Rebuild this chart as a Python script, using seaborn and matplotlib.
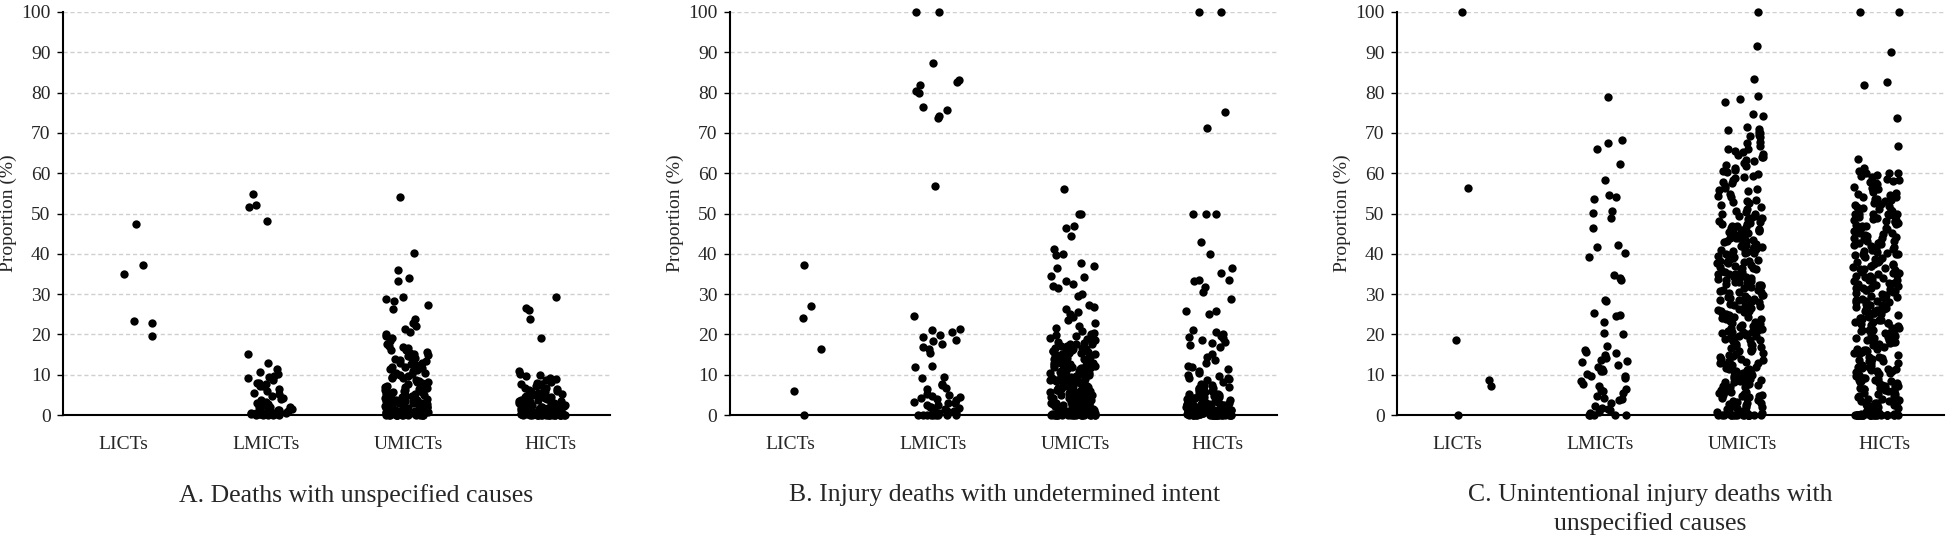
import numpy as np
import pandas as pd
import matplotlib
matplotlib.use("Agg")
import matplotlib.pyplot as plt
import seaborn as sns

# ---- data (proportion, %) ----
categories = ["LICTs", "LMICTs", "UMICTs", "HICTs"]

titles = [
    "A. Deaths with unspecified causes",
    "B. Injury deaths with undetermined intent",
    "C. Unintentional injury deaths with\nunspecified causes",
]

a_licts = [47.5, 37.2, 35.0, 23.3, 22.8, 19.6]
a_lmicts = [54.8, 52.2, 51.6, 48.2, 15.2, 12.9, 11.3, 10.6, 10.1, 9.7, 9.1, 8.6,
            8.0, 7.6, 7.1, 6.4, 5.9, 5.4, 4.7, 4.1, 3.6, 3.0, 2.6, 2.1, 1.6, 1.2,
            0.9, 0.6, 0.4, 0.3, 0.2, 0.1, 0.0, 8.0, 3.3, 2.7, 2.0, 1.5, 1.1, 0.8,
            0.5, 0.3, 0.2, 0.1, 0.0, 0.6, 1.9, 0.4, 9.4, 7.3, 5.2, 3.9, 1.3, 0.0]
a_umicts = [54.1, 40.2, 36.0, 34.0, 33.3, 29.2, 28.9, 28.2, 27.2, 26.4, 23.8, 22.9,
            22.0, 21.3, 20.7, 20.2, 19.6, 19.0, 18.4, 17.6, 17.0, 16.6, 16.1, 15.6,
            15.1, 14.7, 14.2, 13.8, 13.3, 12.9, 12.4, 12.0, 11.6, 11.2, 10.9, 10.5,
            10.2, 10.0, 9.7, 9.4, 9.1, 8.8, 8.5, 8.2, 7.9, 7.6, 7.3, 7.0, 6.8, 6.5,
            6.2, 6.0, 5.8, 5.5, 5.3, 5.0, 4.8, 4.6, 4.4, 4.2, 4.0, 3.8, 3.6, 3.4,
            3.2, 3.0, 2.8, 2.6, 2.4, 2.2, 2.0, 1.9, 1.7, 1.5, 1.4, 1.2, 1.1, 1.0,
            0.9, 0.8, 0.7, 0.6, 0.5, 0.4, 0.3, 0.3, 0.2, 0.2, 0.1, 0.1, 0.0, 0.0,
            0.0, 0.0, 0.0, 0.0, 14.9, 13.0, 11.8, 9.9, 7.8, 6.6, 5.1, 4.9, 3.7,
            2.9, 1.8, 1.3, 0.6, 0.2, 0.1, 0.0, 0.0, 0.0, 0.1, 0.3, 0.6, 0.9, 1.2,
            1.6, 2.1, 2.7, 3.1, 3.9, 4.3, 5.7, 6.1, 6.9, 8.1, 0.0, 0.2, 0.5, 0.8,
            1.4, 2.3, 3.5, 4.6, 5.9, 7.5, 9.2, 0.0, 0.4, 1.0, 1.7, 2.5, 16.9, 16.2,
            15.3, 14.4, 13.6, 12.7, 11.4, 10.3]
a_hicts = [29.3, 26.6, 26.0, 23.9, 19.1, 10.8, 10.1, 9.9, 9.6, 9.3, 8.9, 8.6, 8.2,
           8.0, 7.7, 7.4, 7.1, 6.8, 6.6, 6.3, 6.0, 5.7, 5.5, 5.2, 5.0, 4.7, 4.5,
           4.2, 4.0, 3.8, 3.6, 3.4, 3.2, 3.0, 2.8, 2.6, 2.5, 2.3, 2.1, 2.0, 1.8,
           1.7, 1.5, 1.4, 1.3, 1.2, 1.1, 1.0, 0.9, 0.8, 0.7, 0.7, 0.6, 0.5, 0.5,
           0.4, 0.4, 0.3, 0.3, 0.2, 0.2, 0.2, 0.1, 0.1, 0.1, 0.0, 0.0, 0.0, 0.0,
           0.0, 0.0, 0.0, 0.0, 3.5, 2.7, 1.9, 1.6, 0.9, 0.6, 0.3, 6.1, 4.4, 2.2,
           1.2, 0.8, 0.4, 0.1, 0.0, 0.0, 0.0, 0.0, 0.1, 0.2, 0.3, 0.4, 0.6, 0.8,
           1.0, 1.3, 1.6, 2.0, 2.4, 2.9, 3.3, 4.1, 4.8, 5.6, 6.4, 7.6, 0.0, 0.1,
           0.3, 0.5, 0.9, 1.4, 2.1, 3.1, 4.3, 5.8, 0.0, 0.2, 0.7, 1.1, 1.7, 2.6]

b_licts = [37.1, 27.0, 24.0, 16.4, 5.9, 0.0]
b_lmicts = [100.0, 100.0, 87.4, 83.2, 82.6, 82.0, 80.3, 80.0, 76.5, 75.8, 74.2,
            73.6, 56.7, 24.6, 21.1, 21.3, 20.6, 19.9, 19.3, 18.6, 18.4, 17.6,
            16.9, 16.3, 15.5, 12.1, 11.9, 9.5, 9.2, 7.8, 7.4, 6.8, 6.5, 5.3, 5.0,
            4.6, 4.2, 3.8, 3.3, 2.9, 2.4, 2.1, 1.8, 1.4, 1.1, 0.8, 0.5, 0.3, 0.2,
            0.1, 0.0, 0.0, 0.0, 0.0, 0.0, 4.0, 2.6, 1.5, 0.7, 0.0, 0.0, 0.3, 1.0,
            2.0, 3.1, 4.4, 0.0, 0.6]
b_umicts = [56.2, 50.0, 50.0, 47.0, 46.5, 44.3, 41.2, 40.0, 39.7, 37.8, 37.0, 36.5,
            34.5, 34.2, 33.3, 32.6, 32.0, 31.6, 30.1, 29.6, 27.3, 26.8, 26.2, 25.6,
            25.0, 24.4, 23.6, 22.8, 22.0, 21.5, 20.9, 20.4, 20.0, 19.6, 19.2, 18.8,
            18.3, 17.9, 17.5, 17.1, 16.8, 16.6, 16.5, 16.3, 16.0, 15.7, 15.4, 15.0,
            14.7, 14.4, 14.0, 13.7, 13.3, 13.0, 12.7, 12.3, 12.0, 11.7, 11.3, 11.0,
            10.7, 10.4, 10.0, 9.7, 9.4, 9.1, 8.8, 8.5, 8.2, 7.9, 7.6, 7.3, 7.0, 6.7,
            6.4, 6.1, 5.8, 5.5, 5.2, 4.9, 4.6, 4.3, 4.0, 3.7, 3.4, 3.1, 2.8, 2.5,
            2.2, 1.9, 1.6, 1.3, 1.0, 0.8, 0.6, 0.4, 0.2, 0.1, 0.0, 0.0, 0.0, 0.0,
            0.0, 0.0, 18.0, 17.2, 15.9, 14.9, 13.5, 12.5, 11.5, 10.2, 9.0, 8.0, 7.1,
            6.2, 5.4, 4.5, 3.6, 2.7, 1.8, 0.9, 0.3, 0.0, 17.6, 15.2, 13.8, 12.2,
            10.9, 9.6, 8.4, 7.4, 6.0, 4.8, 3.9, 2.3, 1.2, 0.5, 0.0, 19.8, 18.6,
            14.2, 11.1, 8.7, 6.9, 5.0, 3.2, 1.5, 0.0, 0.0, 0.0, 0.0, 0.1, 0.3, 0.5,
            0.9, 1.1, 1.4, 2.0, 2.4, 2.9, 3.5, 4.1, 4.7, 5.3, 6.0, 6.8, 7.7, 8.6,
            9.3, 10.5, 11.4, 12.4, 13.1, 14.6, 15.5, 16.7, 17.4, 0.0, 0.2, 0.7,
            1.2, 2.1, 3.0, 4.2, 5.6, 7.2, 9.1, 10.8, 12.9, 15.1, 0.0, 0.4, 1.7,
            3.8, 6.5, 9.9, 12.8, 16.2, 0.0, 0.1, 0.5, 1.0, 1.8, 2.6, 3.3, 4.4, 5.1,
            5.9, 6.6, 7.5, 8.3, 9.5, 10.6, 11.6, 12.6, 13.9, 15.3, 16.4, 17.7, 0.0,
            0.3, 0.8, 1.5, 2.3, 3.6, 4.8, 6.3, 7.9, 9.8, 11.9, 14.1, 0.0, 0.6]
b_hicts = [100.0, 100.0, 75.1, 71.3, 50.0, 50.0, 50.0, 42.9, 40.0, 36.4, 35.2, 33.5,
           33.4, 33.3, 31.8, 30.6, 28.7, 25.9, 25.8, 25.1, 21.2, 20.6, 20.1, 19.7,
           19.4, 19.0, 18.6, 18.2, 17.8, 17.3, 16.8, 15.1, 14.4, 13.6, 12.8, 12.2,
           11.5, 10.9, 10.5, 10.0, 9.6, 9.3, 8.8, 8.3, 7.7, 7.2, 6.8, 6.4, 6.0,
           5.6, 5.3, 5.0, 4.7, 4.4, 4.1, 3.8, 3.5, 3.3, 3.0, 2.8, 2.6, 2.4, 2.2,
           2.0, 1.8, 1.6, 1.5, 1.3, 1.2, 1.0, 0.9, 0.8, 0.7, 0.6, 0.5, 0.4, 0.3,
           0.2, 0.1, 0.0, 0.0, 0.0, 0.0, 0.0, 0.0, 0.0, 0.0, 0.0, 0.0, 6.6, 5.9,
           4.9, 4.2, 3.6, 3.1, 2.5, 1.9, 1.4, 1.1, 0.6, 0.3, 0.1, 0.0, 0.0, 5.4,
           4.6, 3.9, 2.9, 2.1, 1.7, 1.0, 0.4, 0.0, 0.0, 12.0, 9.0, 7.5, 5.2, 3.4,
           2.3, 1.2, 0.5, 0.0, 0.0, 4.3, 2.7, 1.4, 0.8, 0.2, 0.0, 0.0, 0.0, 0.0,
           0.0, 0.1, 0.2, 0.4, 0.6, 0.9, 1.1, 1.3, 1.7, 2.0, 2.5, 2.8, 3.2, 3.9,
           4.5, 5.1, 5.8, 6.3, 7.0, 0.0, 0.1, 0.3, 0.7, 1.2, 1.9, 2.6, 3.6, 4.4,
           0.0, 0.5, 1.5, 9.3]

c_licts = [100.0, 56.3, 18.7, 8.6, 7.1, 0.0]
c_lmicts = [79.0, 68.2, 67.6, 65.9, 62.2, 58.3, 54.6, 54.2, 53.6, 50.7, 50.2, 48.8,
            46.3, 42.2, 41.6, 40.1, 39.1, 34.7, 34.0, 33.6, 28.6, 28.4, 25.2, 24.8,
            24.5, 23.2, 20.3, 20.0, 17.0, 16.1, 15.7, 15.3, 14.8, 14.2, 13.7, 13.1,
            12.5, 11.9, 11.4, 10.8, 10.2, 9.6, 9.1, 8.5, 7.8, 7.2, 6.5, 6.0, 5.4,
            4.8, 4.2, 3.7, 3.0, 2.3, 1.8, 1.2, 0.8, 0.4, 0.2, 0.0, 0.0, 0.0, 0.0,
            0.0, 13.5, 11.0, 9.8, 6.1, 3.9, 1.5]
c_umicts = [100.0, 91.6, 83.3, 79.2, 78.3, 77.6, 74.6, 74.1, 71.4, 70.6, 70.0, 69.4,
            68.9, 67.5, 66.7, 66.0, 65.3, 64.8, 63.9, 63.1, 62.6, 61.8, 60.9, 60.3,
            59.8, 59.0, 58.4, 57.6, 56.9, 56.4, 55.5, 54.8, 54.1, 53.4, 52.2, 51.5,
            50.6, 50.0, 49.3, 48.7, 48.1, 47.4, 47.0, 46.3, 45.8, 45.1, 44.7, 44.0,
            43.3, 42.9, 42.2, 41.6, 41.0, 40.5, 40.1, 48.9, 46.9, 45.5, 43.8, 42.5,
            41.3, 40.3, 39.6, 39.2, 38.7, 38.1, 37.6, 37.2, 36.5, 36.0, 35.4, 34.9,
            34.5, 33.9, 33.4, 32.8, 32.2, 31.7, 31.1, 30.6, 30.2, 39.9, 38.4, 37.0,
            35.7, 34.2, 33.1, 32.5, 31.3, 30.4, 29.7, 29.1, 28.6, 28.0, 27.6, 27.0,
            26.4, 25.9, 25.3, 24.8, 24.2, 23.7, 23.1, 22.5, 22.0, 21.4, 20.9, 20.3,
            29.4, 28.3, 27.3, 26.1, 25.0, 24.0, 22.8, 21.7, 20.6, 20.1, 19.7, 19.2,
            18.6, 18.1, 17.5, 17.0, 16.4, 15.8, 15.2, 14.7, 14.0, 13.4, 12.9, 12.3,
            11.7, 11.1, 10.5, 10.1, 19.5, 18.3, 16.8, 15.5, 13.2, 11.9, 10.8, 9.6,
            9.1, 8.6, 8.0, 7.4, 6.9, 6.3, 5.8, 5.2, 4.7, 4.1, 3.5, 3.0, 2.4, 1.9,
            1.3, 0.8, 0.4, 0.0, 0.0, 0.0, 0.0, 0.0, 0.0, 0.0, 0.0, 9.9, 8.3, 7.2,
            6.0, 4.9, 3.8, 2.7, 1.6, 0.6, 0.0, 0.0, 0.0, 0.0, 1.1, 2.2, 3.3, 4.4,
            5.5, 6.7, 7.7, 8.9, 10.3, 11.4, 12.6, 13.9, 15.0, 16.1, 17.3, 18.5,
            19.9, 21.2, 22.3, 23.4, 24.6, 25.7, 27.1, 28.2, 29.5, 30.9, 32.0, 33.2,
            34.3, 35.6, 36.8, 38.0, 39.4, 40.7, 41.8, 43.1, 44.4, 45.6, 46.7, 48.0,
            49.5, 51.1, 53.0, 55.8, 57.9, 60.6, 62.1, 64.0, 65.9, 69.2, 71.0, 18.8,
            20.5, 22.2, 24.4, 26.6, 28.9, 31.5, 33.7, 36.2, 38.9, 41.5, 43.9, 46.1,
            47.7, 26.9, 29.9, 34.8, 37.9, 42.0, 44.9, 5.0, 8.1, 2.0, 0.0, 0.0,
            0.0, 0.7, 1.8, 3.1, 4.3, 5.6, 7.0, 8.4, 9.7, 11.3, 12.8, 14.3, 15.9,
            17.6, 19.0, 20.7, 22.6, 24.1, 25.5, 27.8, 29.0, 30.7, 32.3, 33.8, 35.1,
            36.6, 38.3, 39.7, 41.1, 42.8, 44.2, 45.9, 47.3, 49.0, 50.4, 52.7, 54.4,
            56.2, 58.8, 61.4, 63.3, 65.6, 67.8, 70.3, 2.9, 6.2, 9.3, 13.7, 16.6,
            21.9, 25.1, 28.5, 31.9, 35.0, 37.7, 40.9, 43.5, 46.5, 49.8, 52.9, 59.3,
            64.6, 0.0, 0.0, 1.4, 4.6, 10.9, 23.9, 33.0, 38.6, 45.3]
c_hicts = [100.0, 100.0, 90.0, 82.6, 82.0, 73.7, 66.7, 63.5, 61.2, 60.5, 60.0, 60.0,
           60.0, 59.6, 59.0, 58.5, 58.0, 57.6, 57.0, 56.4, 55.9, 55.3, 54.8, 54.2,
           53.6, 53.0, 52.5, 51.9, 51.3, 50.7, 50.0, 50.0, 50.0, 50.0, 49.6, 49.0,
           48.5, 47.9, 47.3, 46.8, 46.2, 45.6, 45.0, 44.5, 43.9, 43.3, 42.8, 42.2,
           41.6, 41.0, 40.5, 40.0, 40.0, 48.1, 46.5, 45.2, 44.0, 42.5, 41.3, 49.2,
           47.6, 43.6, 39.5, 39.0, 38.4, 37.9, 37.3, 36.7, 36.2, 35.6, 35.0, 34.5,
           33.9, 33.3, 33.3, 32.8, 32.2, 31.6, 31.1, 30.5, 30.0, 38.0, 36.9, 35.3,
           34.2, 32.5, 31.4, 30.3, 39.8, 37.5, 35.9, 33.6, 30.8, 29.6, 29.0, 28.6,
           28.0, 27.5, 26.9, 26.3, 25.8, 25.2, 25.0, 24.6, 24.1, 23.5, 22.9, 22.4,
           21.8, 21.2, 20.7, 20.1, 29.3, 28.3, 27.2, 26.0, 24.8, 23.2, 22.1, 21.0,
           20.4, 28.8, 26.6, 25.5, 23.8, 22.6, 20.9, 19.6, 19.0, 18.5, 17.9, 17.3,
           16.8, 16.2, 15.6, 15.1, 14.5, 13.9, 13.4, 12.8, 12.2, 11.7, 11.1, 10.5,
           10.0, 19.3, 18.2, 17.0, 16.0, 14.8, 13.6, 12.5, 11.4, 10.3, 18.8, 16.5,
           14.2, 12.0, 10.8, 9.6, 9.0, 8.5, 7.9, 7.3, 6.8, 6.2, 5.6, 5.1, 4.5, 3.9,
           3.4, 2.8, 2.2, 1.7, 1.1, 0.6, 9.3, 8.2, 7.1, 6.0, 4.8, 3.7, 2.5, 1.4,
           0.3, 8.8, 6.5, 4.2, 3.0, 1.9, 0.9, 0.0, 0.0, 0.0, 0.0, 0.0, 0.0, 0.0,
           0.0, 0.0, 0.0, 0.0, 0.0, 0.0, 0.0, 0.0, 0.0, 0.0, 0.0, 0.0, 0.0, 0.0,
           0.0, 0.0, 0.0, 0.5, 1.0, 1.6, 2.3, 3.1, 3.6, 4.4, 5.3, 6.1, 6.7, 7.5,
           8.4, 9.1, 10.2, 11.0, 11.8, 12.9, 13.7, 14.4, 15.5, 16.3, 17.4, 18.1,
           19.2, 20.0, 21.1, 21.7, 22.8, 23.6, 24.3, 25.4, 26.2, 27.3, 28.0, 29.1,
           29.8, 30.9, 31.5, 32.7, 33.4, 34.6, 35.2, 36.3, 37.0, 38.2, 38.8, 39.9,
           40.6, 41.5, 42.7, 43.3, 44.6, 45.1, 46.3, 46.9, 48.2, 48.7, 49.8, 50.8,
           51.6, 52.3, 53.4, 54.1, 55.2, 56.1, 57.3, 58.2, 59.4, 2.6, 5.4, 8.0,
           10.7, 13.3, 16.1, 18.7, 21.5, 24.0, 26.8, 29.4, 32.1, 34.8, 37.4, 40.2,
           42.9, 45.6, 48.3, 51.0, 53.7, 56.6, 0.3, 1.3, 3.3, 4.0, 7.2, 0.0, 0.0,
           0.0, 0.8, 2.0, 3.5, 5.0, 6.4, 8.7, 11.5, 14.0, 17.7, 20.3, 23.0, 25.9,
           28.4, 31.2, 33.9, 36.5, 39.3, 41.9, 44.1, 47.1, 49.4, 52.0, 54.6, 57.8]

panels = [
    [a_licts, a_lmicts, a_umicts, a_hicts],
    [b_licts, b_lmicts, b_umicts, b_hicts],
    [c_licts, c_lmicts, c_umicts, c_hicts],
]


def to_long(groups):
    rows = []
    for cat, vals in zip(categories, groups):
        rows += [(cat, v) for v in vals]
    return pd.DataFrame(rows, columns=["group", "value"])


sns.set_theme(style="white")
plt.rcParams["font.family"] = ["Liberation Serif", "DejaVu Serif"]

fig = plt.figure(figsize=(19.52, 5.4), dpi=100)
W, H = 1952, 540
lefts = [63, 730, 1397]
title_x = [356, 1005, 1650]
ax_w, ax_b, ax_t = 547, 415, 12
label_pos = [-0.08, 0.97, 2.02, 3.06]  # category labels sit a bit wider than the dots

np.random.seed(3)  # jitter only
for i, groups in enumerate(panels):
    ax = fig.add_axes([lefts[i] / W, 1 - ax_b / H, ax_w / W, (ax_b - ax_t) / H])
    df = to_long(groups)
    sns.stripplot(data=df, x="group", y="value", order=categories, ax=ax,
                  color="black", size=6, jitter=0.17, linewidth=0,
                  clip_on=False, zorder=3)
    ax.set_xlim(-0.52, 3.50)
    ax.set_ylim(0, 100)
    ax.set_xticks(label_pos, categories)
    ax.set_yticks(range(0, 101, 10))
    ax.yaxis.grid(True, linestyle=(0, (3, 2)), color="#cfcfcf", linewidth=1)
    ax.set_axisbelow(True)
    for s in ["top", "right"]:
        ax.spines[s].set_visible(False)
    for s in ["left", "bottom"]:
        ax.spines[s].set_color("black")
        ax.spines[s].set_linewidth(1.5)
        ax.spines[s].set_zorder(2)
    ax.tick_params(axis="y", which="major", left=True, length=4, width=1,
                   color="black", labelsize=14, pad=5)
    ax.tick_params(axis="x", bottom=False, labelsize=14, pad=9)
    ax.set_xlabel("")
    ax.set_ylabel("Proportion (%)", fontsize=14)
    ax.yaxis.set_label_coords(-0.085, 0.5)
    fig.text(title_x[i] / W, 1 - 484 / H, titles[i],
             ha="center", va="top", fontsize=18.5, linespacing=1.35)

fig.savefig("out.png", dpi=100)
